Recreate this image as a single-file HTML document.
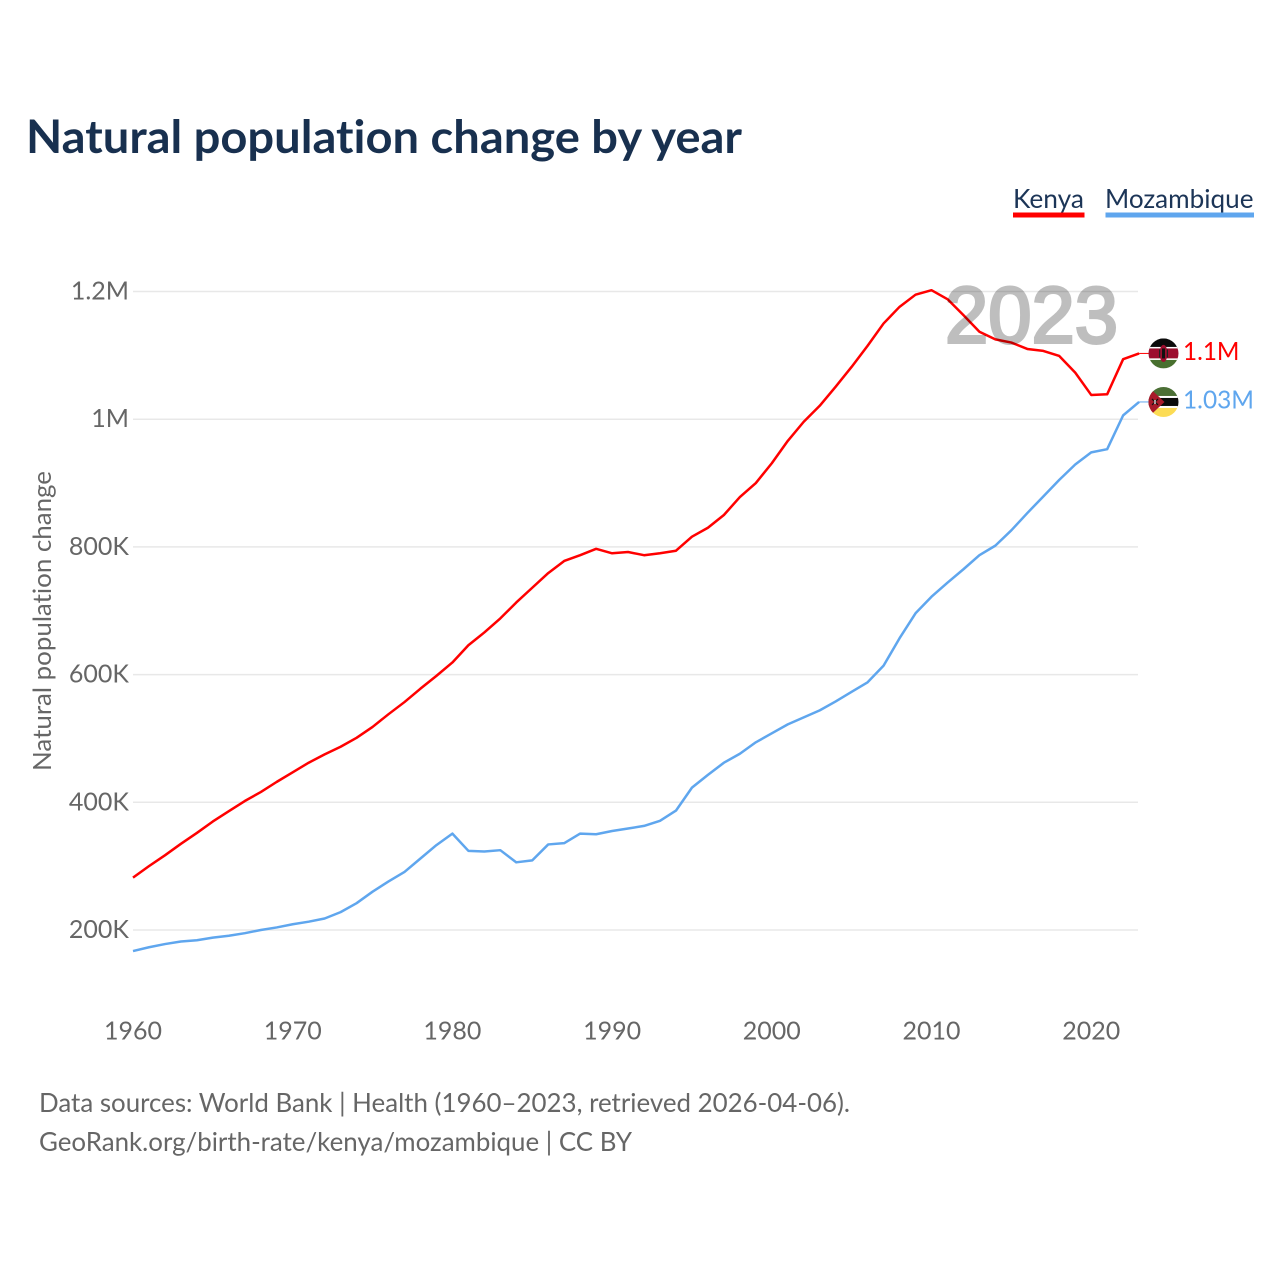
<!DOCTYPE html>
<html lang="en">
<head>
<meta charset="utf-8">
<title>Natural population change by year</title>
<style>
  html, body { margin: 0; padding: 0; background: #fff; }
  #chart-root { display: block; width: 1280px; height: 1280px; }
  text { font-family: "Lato", "Liberation Sans", sans-serif; font-variant-ligatures: none; }
  .tick { font-size: 25px; fill: #666; }
</style>
</head>
<body>
<svg id="chart-root" xmlns="http://www.w3.org/2000/svg" width="1280" height="1280" viewBox="0 0 1280 1280">
  <rect width="1280" height="1280" fill="#fff"/>
  <text x="26" y="153" font-size="46" font-weight="700" fill="#18304f" textLength="716" lengthAdjust="spacingAndGlyphs">Natural population change by year</text>

  <g>
    <text x="1013" y="208" font-size="26" fill="#1c3557" textLength="71" lengthAdjust="spacingAndGlyphs">Kenya</text>
    <rect x="1013" y="212.5" width="71.5" height="5" fill="#ff0000"/>
  </g>
  <g>
    <text x="1105" y="208" font-size="26" fill="#1c3557" textLength="148.5" lengthAdjust="spacingAndGlyphs">Mozambique</text>
    <rect x="1105.5" y="212.5" width="148.5" height="5" fill="#5fa6ee"/>
  </g>

  <g id="grid"></g>
  <g id="y-ticks"></g>
  <g id="x-ticks"></g>
  <text transform="translate(51,771) rotate(-90)" font-size="25" fill="#666" textLength="300" lengthAdjust="spacingAndGlyphs">Natural population change</text>

  <g id="series"></g>

  <text x="945" y="342.5" font-size="80" fill="#000" stroke="#000" stroke-width="3" opacity="0.25" textLength="173" lengthAdjust="spacingAndGlyphs" style="font-family:'Liberation Sans',sans-serif">2023</text>

  <defs>
    <clipPath id="flag-clip"><circle cx="0" cy="0" r="15"/></clipPath>
  </defs>

  <g id="end-kenya">
    <g clip-path="url(#flag-clip)">
      <rect x="-15" y="-15" width="30" height="10" fill="#0b0b0b"/>
      <rect x="-15" y="-5" width="30" height="10" fill="#9c0e2e"/>
      <rect x="-15" y="5" width="30" height="10" fill="#48702f"/>
      <rect x="-15" y="-6.5" width="30" height="1.5" fill="#fff"/>
      <rect x="-15" y="5" width="30" height="1.5" fill="#fff"/>
      <ellipse cx="0" cy="0" rx="4" ry="8.5" fill="#9c0e2e"/>
      <rect x="-1.5" y="-5" width="3" height="10" fill="#111"/>
      <rect x="-4.5" y="-4" width="1.2" height="8" fill="#222"/>
      <rect x="3.3" y="-4" width="1.2" height="8" fill="#222"/>
    </g>
    <text x="19.5" y="6.5" font-size="25" fill="#ff0000" textLength="56.5" lengthAdjust="spacingAndGlyphs">1.1M</text>
  </g>

  <g id="end-mozambique">
    <g clip-path="url(#flag-clip)">
      <rect x="-15" y="-15" width="30" height="10" fill="#4b6f35"/>
      <rect x="-15" y="-5" width="30" height="10" fill="#0b0b0b"/>
      <rect x="-15" y="5" width="30" height="10" fill="#fcdc55"/>
      <rect x="-15" y="-6" width="30" height="2" fill="#fff"/>
      <rect x="-15" y="4" width="30" height="2" fill="#fff"/>
      <path d="M-15-15 1 0-15 15Z" fill="#a81a2a"/>
      <path d="M-11.5-3-5.5 3M-5.5-3-11.5 3" stroke="#111" stroke-width="1.2"/>
      <path d="M-8.5-2-8.5 2" stroke="#fff" stroke-width="1.2"/>
    </g>
    <text x="19.5" y="6.5" font-size="25" fill="#5fa6ee" textLength="71" lengthAdjust="spacingAndGlyphs">1.03M</text>
  </g>

  <text x="39" y="1112" font-size="26" fill="#666" textLength="811" lengthAdjust="spacingAndGlyphs">Data sources: World Bank | Health (1960–2023, retrieved 2026-04-06).</text>
  <text x="39" y="1151" font-size="26" fill="#666" textLength="593" lengthAdjust="spacingAndGlyphs">GeoRank.org/birth-rate/kenya/mozambique | CC BY</text>
</svg>

<script>
const startYear = 1960;
const kenyaValues = [282,300,317,335,352,370,386,402,416,432,447,462,475,487,501,518,538,557,578,598,619,646,666,688,713,736,759,778,787,797,790,792,787,790,794,816,830,850,878,900,931,966,996,1021,1051,1082,1115,1150,1176,1195,1202,1188,1163,1137,1125,1120,1110,1107,1099,1073,1038,1039,1094,1103];
const mozambiqueValues = [167,173,178,182,184,188,191,195,200,204,209,213,218,228,242,260,276,291,312,333,351,324,323,325,306,309,334,336,351,350,355,359,363,371,387,423,443,462,476,494,508,522,533,544,558,573,588,614,657,696,722,744,765,787,802,826,853,879,905,929,948,953,1006,1027];
const yTickValues = [200,400,600,800,1000,1200];
const yTickLabels = ["200K","400K","600K","800K","1M","1.2M"];
const xTickYears = [1960,1970,1980,1990,2000,2010,2020];

const SVGNS = "http://www.w3.org/2000/svg";
function xScale(year) { return 133 + (year - 1960) * 15.97; }
function yScale(k) { return 930 - (k - 200) * 0.6385; }

const gridGroup = document.getElementById("grid");
const yTickGroup = document.getElementById("y-ticks");
const xTickGroup = document.getElementById("x-ticks");
const seriesGroup = document.getElementById("series");

yTickValues.forEach(function (v, i) {
  const line = document.createElementNS(SVGNS, "line");
  
  
  line.setAttribute("x1", 133);
  line.setAttribute("x2", 1138);
  line.setAttribute("y1", yScale(v));
  line.setAttribute("y2", yScale(v));
  line.setAttribute("stroke", "#e8e8e8");
  line.setAttribute("stroke-width", "1.5");
  gridGroup.appendChild(line);

  const label = document.createElementNS(SVGNS, "text");
  
  
  label.setAttribute("class", "tick");
  label.setAttribute("x", 129);
  label.setAttribute("y", yScale(v) + 8);
  label.setAttribute("text-anchor", "end");
  label.textContent = yTickLabels[i];
  yTickGroup.appendChild(label);
});

xTickYears.forEach(function (year) {
  const label = document.createElementNS(SVGNS, "text");
  
  
  label.setAttribute("class", "tick");
  label.setAttribute("x", xScale(year));
  label.setAttribute("y", 1039.5);
  label.setAttribute("text-anchor", "middle");
  label.textContent = year;
  xTickGroup.appendChild(label);
});

function pointsFor(values) {
  return values.map(function (v, i) {
    return xScale(startYear + i).toFixed(2) + "," + yScale(v).toFixed(2);
  }).join(" ");
}

function lastPoint(values) {
  const i = values.length - 1;
  return { x: xScale(startYear + i), y: yScale(values[i]) };
}

function addConnector(values, color) {
  const p = lastPoint(values);
  const c = document.createElementNS(SVGNS, "line");
  
  
  c.setAttribute("x1", p.x);
  c.setAttribute("x2", p.x + 10);
  c.setAttribute("y1", p.y);
  c.setAttribute("y2", p.y);
  c.setAttribute("stroke", color);
  c.setAttribute("stroke-width", "1");
  seriesGroup.appendChild(c);
}

const kenyaLine = document.createElementNS(SVGNS, "polyline");


kenyaLine.setAttribute("points", pointsFor(kenyaValues));
kenyaLine.setAttribute("fill", "none");
kenyaLine.setAttribute("stroke", "#ff0000");
kenyaLine.setAttribute("stroke-width", "2.5");
kenyaLine.setAttribute("stroke-linejoin", "round");
seriesGroup.appendChild(kenyaLine);

const mozambiqueLine = document.createElementNS(SVGNS, "polyline");


mozambiqueLine.setAttribute("points", pointsFor(mozambiqueValues));
mozambiqueLine.setAttribute("fill", "none");
mozambiqueLine.setAttribute("stroke", "#5fa6ee");
mozambiqueLine.setAttribute("stroke-width", "2.5");
mozambiqueLine.setAttribute("stroke-linejoin", "round");
seriesGroup.appendChild(mozambiqueLine);

addConnector(kenyaValues, "#ff0000");
addConnector(mozambiqueValues, "#5fa6ee");

document.getElementById("end-kenya").setAttribute("transform", "translate(1163.5," + lastPoint(kenyaValues).y + ")");
document.getElementById("end-mozambique").setAttribute("transform", "translate(1163.5," + lastPoint(mozambiqueValues).y + ")");
</script>
</body>
</html>
